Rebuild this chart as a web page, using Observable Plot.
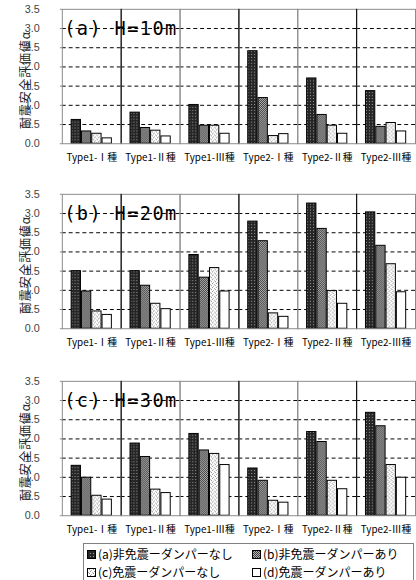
<!DOCTYPE html>
<html><head><meta charset="utf-8">
<script src="https://cdn.jsdelivr.net/npm/d3@7"></script>
<script src="https://cdn.jsdelivr.net/npm/@observablehq/plot@0.6"></script>
<style>
html,body{margin:0;padding:0;overflow:hidden;background:#fff;width:416px;height:580px}
.panel{position:absolute;left:0}
.ylab{position:absolute;left:23.5px;transform:translate(-50%,-50%) rotate(-90deg);white-space:nowrap;font-family:'Noto Sans CJK JP',sans-serif;font-size:12px;letter-spacing:0.8px;color:#222;line-height:13px}
#legend{position:absolute;left:83px;top:543px;width:331px;height:46px;border:1px solid #808080;box-sizing:border-box;font-family:'Noto Sans CJK JP',sans-serif;font-size:12px;color:#000}
.item{position:absolute;display:flex;align-items:center;white-space:nowrap;line-height:14px}
.item svg{margin-right:1px}
</style></head><body>
<svg width="0" height="0" style="position:absolute">
<defs>
<pattern id="patA" width="3" height="3" patternUnits="userSpaceOnUse"><rect width="3" height="3" fill="#262626"/><rect x="1" y="1" width="1" height="1" fill="#9a9a9a"/></pattern>
<pattern id="patB" width="2" height="2" patternUnits="userSpaceOnUse"><rect width="2" height="2" fill="#b4b4b4"/><rect x="0" y="0" width="1" height="1" fill="#3c3c3c"/><rect x="1" y="1" width="1" height="1" fill="#3c3c3c"/></pattern>
<pattern id="patC" width="4" height="4" patternUnits="userSpaceOnUse"><rect width="4" height="4" fill="#ffffff"/><rect x="0" y="0" width="1" height="1" fill="#8c8c8c"/><rect x="2" y="1" width="1" height="1" fill="#b0b0b0"/><rect x="1" y="3" width="1" height="1" fill="#b0b0b0"/><rect x="3" y="2" width="1" height="1" fill="#8c8c8c"/></pattern>
<pattern id="patD" width="2" height="2" patternUnits="userSpaceOnUse"><rect width="2" height="2" fill="#ffffff"/></pattern>
</defs></svg>
<div id="p0" class="panel" style="top:0px"></div>
<div id="p1" class="panel" style="top:185px"></div>
<div id="p2" class="panel" style="top:372px"></div>
<div id="legend"></div>
<script>
// ---- data ----
const categories = ["Type1-Ⅰ種","Type1-Ⅱ種","Type1-Ⅲ種","Type2-Ⅰ種","Type2-Ⅱ種","Type2-Ⅲ種"];
const seriesNames = ["(a)非免震ーダンパーなし","(b)非免震ーダンパーあり","(c)免震ーダンパーなし","(d)免震ーダンパーあり"];
const panelTitles = ["(a) H=10m","(b) H=20m","(c) H=30m"];
const yLabel = "耐震安全評価値α";
const yTicks = [0,0.5,1.0,1.5,2.0,2.5,3.0,3.5];
const gridValues = [0.5,1.0,1.5,2.0,2.5,3.0];

// H=10m
const H10_a = [0.62,0.81,1.01,2.41,1.70,1.37];
const H10_b = [0.32,0.41,0.47,1.19,0.75,0.44];
const H10_c = [0.26,0.34,0.47,0.20,0.47,0.54];
const H10_d = [0.14,0.19,0.26,0.25,0.26,0.32];
// H=20m
const H20_a = [1.50,1.50,1.92,2.79,3.26,3.03];
const H20_b = [0.97,1.12,1.33,2.28,2.60,2.16];
const H20_c = [0.45,0.65,1.58,0.40,0.98,1.68];
const H20_d = [0.36,0.51,0.97,0.31,0.65,0.95];
// H=30m
const H30_a = [1.30,1.88,2.13,1.23,2.18,2.68];
const H30_b = [0.99,1.53,1.70,0.91,1.92,2.33];
const H30_c = [0.52,0.68,1.61,0.39,0.91,1.32];
const H30_d = [0.42,0.59,1.32,0.34,0.69,0.99];

const panels = [
  [H10_a,H10_b,H10_c,H10_d],
  [H20_a,H20_b,H20_c,H20_d],
  [H30_a,H30_b,H30_c,H30_d]
];
const fills = ["url(#patA)","url(#patB)","url(#patC)","url(#patD)"];
// divider lines drawn black at the left of these categories
const blackDividerCats = [categories[1],categories[3],categories[5]];

const W = 424, ML = 63, MR = 1;
const facetW = (W - ML - MR) / categories.length;
const padOuter = 6/7;
const step = facetW / (seriesNames.length + 2*padOuter);
const dividerDx = -(padOuter*step + step/2);

function makePanel(title, vals, mb) {
  const data = [];
  categories.forEach((c, ci) => seriesNames.forEach((s, si) => data.push({cat: c, series: s, value: vals[si][ci]})));
  const first = () => categories[0];
  const svg = Plot.plot({
    width: W, height: 9 + 137 + mb,
    marginTop: 9, marginBottom: mb, marginLeft: ML, marginRight: MR,
    style: {fontFamily: "'Noto Sans CJK JP', sans-serif", background: "transparent", overflow: "visible"},
    fx: {domain: categories, padding: 0, label: null, round: false},
    x: {domain: seriesNames, paddingInner: 0, paddingOuter: padOuter, round: false, axis: null},
    y: {domain: [0, 3.5], axis: null},
    color: {domain: seriesNames, range: fills},
    marks: [
      Plot.ruleY(gridValues, {stroke: "#000", strokeDasharray: "4,3"}),
      Plot.barY(data, {fx: "cat", x: "series", y: "value", fill: "series", stroke: "#000", strokeWidth: 1, insetLeft: 0.5, insetRight: 0.5}),
      Plot.frame({stroke: "#8a8a8a"}),
      Plot.ruleX(blackDividerCats, {fx: d => d, x: () => seriesNames[0], dx: dividerDx, stroke: "#000"}),
      Plot.axisY({ticks: yTicks, tickSize: 2, tickFormat: () => "", stroke: "#888", label: null}),
      Plot.text(yTicks, {fx: first, y: d => d, text: d => d3.format(".1f")(d), frameAnchor: "left", textAnchor: "end", dx: -23, fontSize: 11, fontFamily: "'Liberation Sans', sans-serif", fill: "#444"}),
      Plot.axisFx({anchor: "bottom", tickSize: 0, tickPadding: 10, fontSize: 10, label: null, fill: "#000"}),
      Plot.text([title], {fx: first, frameAnchor: "top-left", dx: 2, dy: 13, fontSize: 19, fontFamily: "'DejaVu Sans Mono', monospace", fill: "#000"})
    ]
  });
  d3.select(svg).selectAll("text").filter(function(){ return this.textContent === title; }).style("letter-spacing", "1.4px");
  return svg;
}

document.getElementById("p0").appendChild(makePanel(panelTitles[0], panels[0], 30));
document.getElementById("p1").appendChild(makePanel(panelTitles[1], panels[1], 30));
document.getElementById("p2").appendChild(makePanel(panelTitles[2], panels[2], 24));

// y-axis titles (rotated), one per panel
[80, 265, 452].forEach(cy => {
  d3.select("body").append("div").attr("class", "ylab").style("top", cy + "px").text(yLabel);
});

// legend
const legend = d3.select("#legend");
const legendPos = [[2, 3], [167, 3], [2, 21], [167, 21]];
seriesNames.forEach((name, si) => {
  const it = legend.append("div").attr("class", "item")
    .style("left", legendPos[si][0] + "px").style("top", legendPos[si][1] + "px");
  const s = it.append("svg").attr("width", 11).attr("height", 11);
  s.append("rect").attr("x", 1.5).attr("y", 1.5).attr("width", 8).attr("height", 8)
    .attr("fill", fills[si]).attr("stroke", "#000");
  it.append("span").text(name);
});
</script>
</body></html>
